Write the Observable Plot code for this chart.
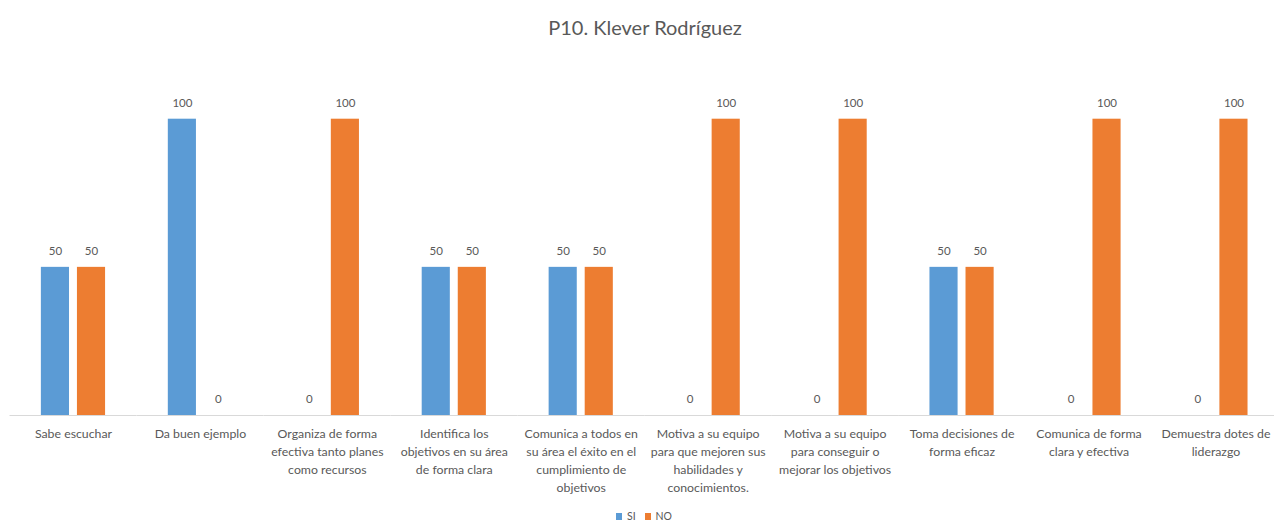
<!DOCTYPE html>
<html>
<head>
<meta charset="utf-8">
<script src="https://cdn.jsdelivr.net/npm/d3@7"></script>
<script src="https://cdn.jsdelivr.net/npm/@observablehq/plot@0.6"></script>
<style>
  html, body { margin: 0; padding: 0; background: #fff; }
  body { width: 1274px; height: 522px; overflow: hidden; font-family: Lato, "Open Sans", sans-serif; }
  #title { height: 50px; line-height: 54px; text-align: center; font-size: 20px; color: #595959; padding-left: 16px; box-sizing: border-box; }
  #legend { display: flex; justify-content: center; align-items: center; gap: 9px; font-size: 10.5px; line-height: 12px; color: #595959; height: 12px; margin-top: 0; padding-left: 14px; }
  #legend .item { display: flex; align-items: center; gap: 5px; }
  #legend .sw { width: 6px; height: 7px; display: inline-block; }
  svg { display: block; }
</style>
</head>
<body>
<div id="title">P10. Klever Rodríguez</div>
<div id="chart"></div>
<div id="legend"></div>
<script>
const categories = [
  "Sabe escuchar",
  "Da buen ejemplo",
  "Organiza de forma efectiva tanto planes como recursos",
  "Identifica los objetivos en su área de forma clara",
  "Comunica a todos en su área el éxito en el cumplimiento de objetivos",
  "Motiva a su equipo para que mejoren sus habilidades y conocimientos.",
  "Motiva a su equipo para conseguir o mejorar los objetivos",
  "Toma decisiones de forma eficaz",
  "Comunica de forma clara y efectiva",
  "Demuestra dotes de liderazgo"
];
const tickLabels = [
  "Sabe escuchar",
  "Da buen ejemplo",
  "Organiza de forma\nefectiva tanto planes\ncomo recursos",
  "Identifica los\nobjetivos en su área\nde forma clara",
  "Comunica a todos en\nsu área el éxito en el\ncumplimiento de\nobjetivos",
  "Motiva a su equipo\npara que mejoren sus\nhabilidades y\nconocimientos.",
  "Motiva a su equipo\npara conseguir o\nmejorar los objetivos",
  "Toma decisiones de\nforma eficaz",
  "Comunica de forma\nclara y efectiva",
  "Demuestra dotes de\nliderazgo"
];
const series = ["SI", "NO"];
const siValues = [50, 100, 0, 50, 50, 0, 0, 50, 0, 0];
const noValues = [50, 0, 100, 50, 50, 100, 100, 50, 100, 100];
const colors = ["#5B9BD5", "#ED7D31"];

const data = categories.flatMap((c, i) => [
  {cat: c, s: "SI", v: siValues[i]},
  {cat: c, s: "NO", v: noValues[i]}
]);

const chart = Plot.plot({
  width: 1274,
  height: 460,
  marginTop: 68.7,
  marginBottom: 95,
  marginLeft: 9.5,
  marginRight: -4.9,
  style: {fontFamily: "Lato, 'Open Sans', sans-serif", background: "#fff"},
  fx: {domain: categories, padding: 0, round: false, label: null},
  x: {domain: series, paddingInner: 0.22, paddingOuter: 0.87, round: false, axis: null},
  y: {domain: [0, 100], axis: null},
  color: {domain: series, range: colors},
  marks: [
    Plot.barY(data, {fx: "cat", x: "s", y: "v", fill: "s"}),
    Plot.ruleY([0], {stroke: "#d9d9d9", strokeWidth: 1}),
    Plot.text(data, {fx: "cat", x: "s", y: "v", text: d => String(d.v), dy: -16, fill: "#595959", fontSize: 11.5}),
    Plot.axisFx({
      anchor: "bottom",
      tickSize: 0,
      tickPadding: 10,
      tickFormat: d => tickLabels[categories.indexOf(d)],
      lineHeight: 1.45,
      fontSize: 12.3,
      fill: "#595959",
      label: null
    })
  ]
});
document.getElementById("chart").appendChild(chart);

const legend = document.getElementById("legend");
series.forEach((s, i) => {
  const item = document.createElement("span");
  item.className = "item";
  const sw = document.createElement("span");
  sw.className = "sw";
  sw.style.background = colors[i];
  const t = document.createElement("span");
  t.textContent = s;
  item.appendChild(sw);
  item.appendChild(t);
  legend.appendChild(item);
});
</script>
</body>
</html>
